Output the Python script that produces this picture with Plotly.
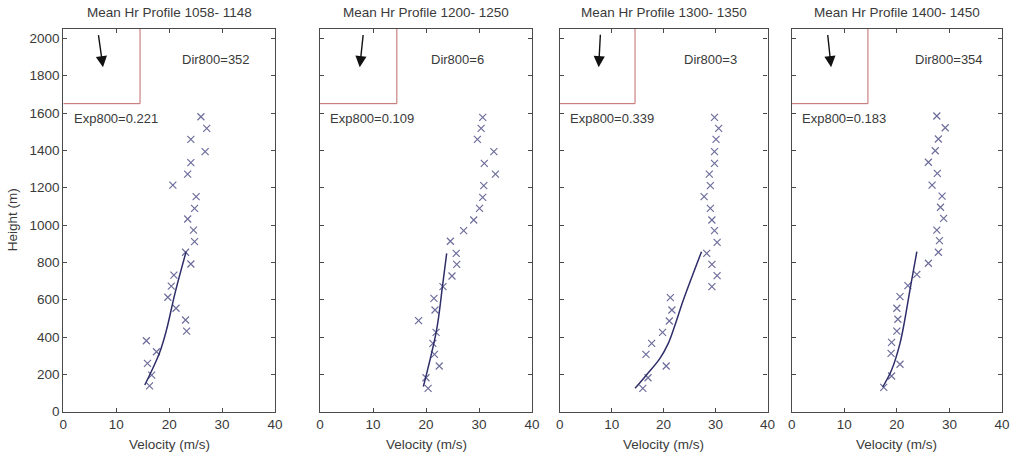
import math
import plotly.graph_objects as go

# ---------------- data ----------------
titles = ["Mean Hr Profile 1058- 1148", "Mean Hr Profile 1200- 1250",
          "Mean Hr Profile 1300- 1350", "Mean Hr Profile 1400- 1450"]
dir800 = [352, 6, 3, 354]
exp800 = ["0.221", "0.109", "0.339", "0.183"]

# observed profiles (velocity m/s, height m)
v1 = [26.0, 27.1, 24.1, 26.8, 24.1, 23.5, 20.7, 25.1, 24.8, 23.5, 24.6, 24.8, 23.1,
      24.1, 20.9, 20.4, 19.75, 21.3, 23.1, 23.3, 15.7, 17.6, 15.9, 16.7, 16.3]
h1 = [1580, 1518, 1459, 1393, 1334, 1273, 1214, 1152, 1089, 1032, 973, 911, 854,
      791, 732, 673, 613, 554, 491, 432, 380, 321, 259, 196, 138]
v2 = [30.7, 30.4, 29.7, 32.8, 31.0, 33.1, 30.9, 30.7, 30.1, 29.0, 27.1, 24.6, 25.7,
      25.8, 24.9, 23.2, 21.5, 21.7, 18.6, 21.9, 21.3, 21.6, 22.5, 20.0, 20.4]
h2 = [1577, 1518, 1459, 1393, 1330, 1273, 1211, 1148, 1089, 1027, 970, 913, 848,
      789, 727, 670, 607, 545, 488, 425, 366, 307, 245, 182, 125]
v3 = [29.8, 30.6, 30.1, 29.8, 29.8, 28.8, 29.0, 27.8, 29.0, 29.3, 29.8, 30.3, 28.3,
      29.3, 30.3, 29.3, 21.3, 21.6, 21.1, 19.8, 17.7, 16.6, 20.5, 17.0, 16.0]
h3 = [1577, 1518, 1459, 1393, 1330, 1273, 1211, 1152, 1089, 1027, 970, 907, 848,
      789, 729, 670, 611, 545, 486, 425, 366, 307, 245, 182, 125]
v4 = [27.6, 29.2, 27.9, 27.3, 26.0, 27.7, 26.7, 28.6, 28.3, 28.9, 27.6, 28.1, 27.9,
      26.0, 23.8, 22.1, 20.6, 20.0, 20.2, 20.0, 19.0, 18.9, 20.6, 19.0, 17.5]
h4 = [1584, 1521, 1461, 1398, 1336, 1277, 1214, 1155, 1095, 1036, 973, 916, 854,
      795, 736, 675, 616, 554, 495, 432, 371, 312, 254, 191, 130]

# fitted power-law profiles
fv1 = [15.4, 18.15, 19.5, 21.1, 23.2]
fh1 = [143, 313, 438, 634, 857]
fv2 = [19.5, 22.0, 23.1, 23.9]
fh2 = [134, 438, 670, 848]
fv3 = [14.5, 16.7, 19.3, 20.9, 22.2, 23.8, 27.3]
fh3 = [125, 197, 286, 366, 464, 598, 857]
fv4 = [17.3, 19.0, 20.6, 21.5, 22.6, 23.8]
fh4 = [131, 223, 366, 491, 670, 857]

obs_v = [v1, v2, v3, v4]
obs_h = [h1, h2, h3, h4]
fit_v = [fv1, fv2, fv3, fv4]
fit_h = [fh1, fh2, fh3, fh4]

x_ticks = [0, 10, 20, 30, 40]
y_ticks = list(range(0, 2001, 200))

# ---------------- layout geometry ----------------
W, H = 1013, 455
px_x = [(63.3, 275.0), (320.0, 532.0), (559.7, 767.5), (791.7, 1002.0)]
y_dom = [(H - 411.7) / H, (H - 29.0) / H]
dir_text_x = [22.0, 20.5, 23.5, 23.0]

AX = "#4a4a4a"
TXT = "#3a3a3a"
FONT = "Liberation Sans, Arial, sans-serif"
MARK = "#6e6e9c"
LINE = "#2e2e6a"
RED = "#c06868"

fig = go.Figure()
annotations = []
shapes = []

for i in range(4):
    xa = "x" if i == 0 else f"x{i+1}"
    ya = "y" if i == 0 else f"y{i+1}"
    fig.add_trace(go.Scatter(
        x=obs_v[i], y=obs_h[i], mode="markers", xaxis=xa, yaxis=ya,
        marker=dict(symbol="x-thin", size=7, line=dict(color=MARK, width=1.2)),
        showlegend=False, hoverinfo="x+y"))
    fig.add_trace(go.Scatter(
        x=fit_v[i], y=fit_h[i], mode="lines", xaxis=xa, yaxis=ya,
        line=dict(color=LINE, width=1.5, shape="spline"),
        showlegend=False, hoverinfo="x+y"))

    dom = [px_x[i][0] / W, px_x[i][1] / W]
    axis_common = dict(showline=True, linecolor=AX, linewidth=1.3, mirror="ticks",
                       ticks="inside", ticklen=4, tickcolor=AX, tickwidth=1,
                       showgrid=False, zeroline=False, automargin=False,
                       tickfont=dict(family=FONT, size=13.5, color=TXT))
    fig.update_layout(**{
        ("xaxis" if i == 0 else f"xaxis{i+1}"): dict(
            domain=dom, range=[0, 40], tickvals=x_ticks, anchor=ya, **axis_common),
        ("yaxis" if i == 0 else f"yaxis{i+1}"): dict(
            domain=y_dom, range=[0, 2050], tickvals=y_ticks, anchor=xa,
            showticklabels=(i == 0), **axis_common),
    })

    # title
    annotations.append(dict(text=titles[i], xref="paper", yref="paper",
                            x=sum(dom) / 2, y=(H - 12) / H, showarrow=False,
                            xanchor="center", yanchor="middle",
                            font=dict(family=FONT, size=13.5, color=TXT)))
    # x label
    annotations.append(dict(text="Velocity (m/s)", xref="paper", yref="paper",
                            x=sum(dom) / 2, y=(H - 444) / H, showarrow=False,
                            xanchor="center", yanchor="middle",
                            font=dict(family=FONT, size=13.5, color=TXT)))
    # Dir800 / Exp800 texts
    annotations.append(dict(text=f"Dir800={dir800[i]}", xref=xa, yref=ya,
                            x=dir_text_x[i], y=1884, showarrow=False,
                            xanchor="left", yanchor="middle",
                            font=dict(family=FONT, size=13, color=TXT)))
    annotations.append(dict(text=f"Exp800={exp800[i]}", xref=xa, yref=ya,
                            x=1.6, y=1568, showarrow=False,
                            xanchor="left", yanchor="middle",
                            font=dict(family=FONT, size=13, color=TXT)))
    # wind arrow: head fixed, tail offset derived from direction
    to = math.radians(dir800[i] + 180)
    L = 34
    annotations.append(dict(text="", xref=xa, yref=ya, x=7.5, y=1845,
                            ax=-L * math.sin(to), ay=L * math.cos(to),
                            showarrow=True, arrowhead=2, arrowsize=1.6,
                            arrowwidth=1.4, arrowcolor="#111111"))
    # red inset box (right and bottom edges)
    shapes.append(dict(type="line", xref=xa, yref=ya, x0=14.5, x1=14.5,
                       y0=1650, y1=2050, line=dict(color=RED, width=1)))
    shapes.append(dict(type="line", xref=xa, yref=ya, x0=0, x1=14.5,
                       y0=1650, y1=1650, line=dict(color=RED, width=1)))

annotations.append(dict(text="Height (m)", xref="paper", yref="paper",
                        x=12 / W, y=sum(y_dom) / 2, showarrow=False, textangle=-90,
                        xanchor="center", yanchor="middle",
                        font=dict(family=FONT, size=13.5, color=TXT)))

fig.update_layout(width=W, height=H, autosize=False,
                  margin=dict(l=0, r=0, t=0, b=0, autoexpand=False),
                  paper_bgcolor="white", plot_bgcolor="white",
                  annotations=annotations, shapes=shapes)

page_fix = (
    "document.documentElement.style.overflow='hidden';"
    "document.body.style.margin='0';"
    "document.body.style.overflow='hidden';"
)

fig.write_html("out.html", config={"displayModeBar": False}, post_script=page_fix)
